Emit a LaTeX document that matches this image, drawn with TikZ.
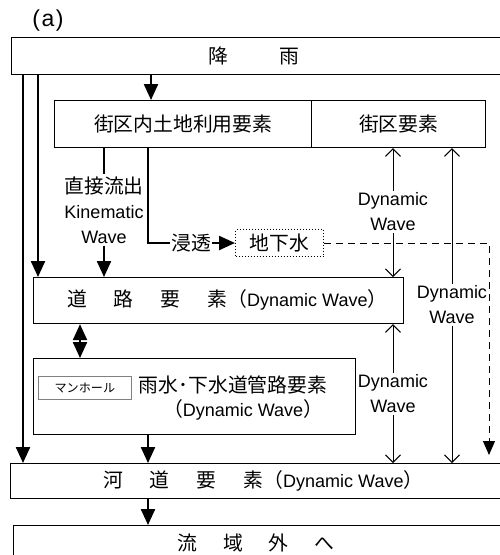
\documentclass[tikz,border=0pt]{standalone}
\usepackage{fontspec}
\setmainfont{Liberation Sans}
\newfontfamily\cjk{Noto Sans CJK JP}[Scale=1.1]
\usetikzlibrary{arrows.meta}
\begin{document}
\begin{tikzpicture}[x=1pt,y=-1pt, font=\fontsize{18}{25}\selectfont,
 box/.style={draw, line width=1.2pt, inner sep=0pt, anchor=north west},
 thk/.style={line width=2.3pt},
 thn/.style={line width=1pt},
 tri/.style={-{Triangle[width=14pt,length=16pt]}},
 dtri/.style={{Triangle[width=14pt,length=16pt]}-{Triangle[width=14pt,length=16pt]}},
 barb/.style={-{Straight Barb[width=15pt,length=7.5pt,line width=1pt]}},
 lbl/.style={align=center, inner sep=2pt},
 txt/.style={inner sep=0pt},
]
\useasboundingbox (0,0) rectangle (499,555);

% x positions of vertical connectors
\coordinate (xa) at (23,0);
\coordinate (xb) at (38,0);
\coordinate (xc) at (151,0);
\coordinate (xd) at (104,0);
\coordinate (xe) at (148,0);
\coordinate (xf) at (393,0);
\coordinate (xg) at (452,0);
\coordinate (xi) at (80,0);
\coordinate (dashend) at (489,455);

\node[txt] (lab) at (48,21) {\fontsize{23}{26}\selectfont (\kern1.5pt a\kern1.5pt)};

% boxes
\node[box, minimum width=499pt, minimum height=37pt] (rain) at (11,37) {};
\node[txt] (raintxt) at (254,56) {\cjk 降\hspace{52pt}雨};

\node[box, minimum width=257pt, minimum height=47pt] (landuse) at (54,100) {\cjk 街区内土地利用要素};
\node[box, minimum width=174pt, minimum height=47pt] (block) at (311,100) {\cjk 街区要素};

\node[box, minimum width=370pt, minimum height=46pt] (road) at (33,277) {};
\node[txt, anchor=west] (roadtxt) at (67,300) {{\cjk 道\hspace{27pt}路\hspace{27pt}要\hspace{27pt}素（}Dynamic Wave{\cjk ）}};

\node[box, minimum width=322pt, minimum height=76pt] (sewer) at (33,358) {};
\node[box, draw=gray, line width=0.8pt, minimum width=93pt, minimum height=23pt, font=\fontsize{11}{12}\selectfont] (manhole) at (38,376) {\cjk マンホール};
\node[txt] (sewtxt1) at (233,385) {\cjk 雨水･下水道管路要素};
\node[txt] (sewtxt2) at (243,410) {{\cjk （}Dynamic Wave{\cjk ）}};

\node[box, minimum width=500pt, minimum height=35pt] (river) at (10,463) {};
\node[txt, anchor=west] (rivtxt) at (103,481) {{\cjk 河\hspace{27pt}道\hspace{27pt}要\hspace{27pt}素（}Dynamic Wave{\cjk ）}};

\node[box, minimum width=497pt, minimum height=45pt] (outside) at (13,525) {};
\node[txt] (outtxt) at (256,543) {\cjk 流\hspace{26pt}域\hspace{26pt}外\hspace{26pt}へ};

\node[draw, dotted, line width=1pt, minimum width=88pt, minimum height=27pt, inner sep=0pt, anchor=north west] (gw) at (235,229) {\cjk 地下水};
\node[inner sep=1pt] (shinto) at (191,243) {\cjk 浸透};

% labels
\node[lbl] (kin) at (104,210) {{\cjk 直接流出}\\Kinematic\\Wave};
\node[lbl] (dw1) at (393,212) {Dynamic\\Wave};
\node[lbl] (dw2) at (452,305) {Dynamic\\Wave};
\node[lbl] (dw3) at (393,394) {Dynamic\\Wave};

% connectors
\draw[thk,tri] (rain.south -| xc) -- (landuse.north -| xc);
\draw[thk,tri] (rain.south -| xa) -- (river.north -| xa);
\draw[thk,tri] (rain.south -| xb) -- (road.north -| xb);
\draw[thk] (landuse.south -| xd) -- (kin.north);
\draw[thk,tri] (kin.south) -- (road.north -| xd);
\draw[thk] (landuse.south -| xe) |- (shinto.west);
\draw[thk,tri] (shinto.east) -- (gw.west);
\draw[thn, dash pattern=on 7pt off 5pt, -{Triangle[width=12pt,length=14pt]}] (gw.east) -| (dashend);

\draw[thn,barb] (dw1.north) -- (block.south -| xf);
\draw[thn,barb] (dw1.south) -- (road.north -| xf);
\draw[thn,barb] (dw2.north) -- (block.south -| xg);
\draw[thn,barb] (dw2.south) -- (river.north -| xg);
\draw[thn,barb] (dw3.north) -- (road.south -| xf);
\draw[thn,barb] (dw3.south) -- (river.north -| xf);

\draw[thk,dtri] (road.south -| xi) -- (sewer.north -| xi);
\draw[thk,tri] (sewer.south -| xe) -- (river.north -| xe);
\draw[thk,tri] (river.south -| xe) -- (outside.north -| xe);
\end{tikzpicture}
\end{document}
